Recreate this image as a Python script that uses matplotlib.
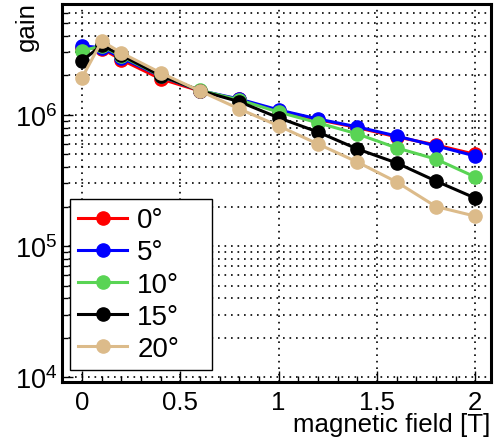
import matplotlib
matplotlib.use("Agg")
import matplotlib.pyplot as plt
from matplotlib.ticker import LogLocator, FixedLocator, MultipleLocator, NullFormatter

plt.rcParams['font.family'] = ['Liberation Sans', 'DejaVu Sans']
plt.rcParams['mathtext.fontset'] = 'custom'
plt.rcParams['mathtext.rm'] = 'Liberation Sans'
plt.rcParams['mathtext.it'] = 'Liberation Sans'

field = [0, 0.1, 0.2, 0.4, 0.6, 0.8, 1.0, 1.2, 1.4, 1.6, 1.8, 2.0]
gain_0 = [3.25e6, 3.2e6, 2.63e6, 1.88e6, 1.52e6, 1.31e6, 1.07e6, 0.92e6, 0.80e6, 0.68e6, 0.59e6, 0.50e6]
gain_5 = [3.36e6, 3.25e6, 2.72e6, 1.97e6, 1.53e6, 1.32e6, 1.09e6, 0.93e6, 0.81e6, 0.69e6, 0.58e6, 0.486e6]
gain_10 = [3.08e6, 3.35e6, 2.80e6, 1.98e6, 1.54e6, 1.30e6, 1.05e6, 0.87e6, 0.716e6, 0.56e6, 0.46e6, 0.336e6]
gain_15 = [2.58e6, 3.40e6, 2.85e6, 1.99e6, 1.53e6, 1.26e6, 0.95e6, 0.74e6, 0.55e6, 0.43e6, 0.313e6, 0.232e6]
gain_20 = [1.92e6, 3.65e6, 2.97e6, 2.09e6, 1.52e6, 1.11e6, 0.824e6, 0.60e6, 0.437e6, 0.308e6, 0.20e6, 0.169e6]
labels = ['0°', '5°', '10°', '15°', '20°']
colors = ['#ff0000', '#0000ff', '#59d454', '#000000', '#dcbb8a']
series = [gain_0, gain_5, gain_10, gain_15, gain_20]
xticks = [0, 0.5, 1, 1.5, 2]
xticklabels = ['0', '0.5', '1', '1.5', '2']

W, H = 495, 439
fig = plt.figure(figsize=(W / 100, H / 100), dpi=100)
ax = fig.add_axes([62 / W, (H - 383) / H, (491 - 62) / W, (383 - 5) / H])

for s, c, l in zip(series, colors, labels):
    ax.plot(field, s, '-o', color=c, lw=2.2, ms=9.5, label=l, zorder=3)

ax.set_yscale('log')
ax.set_xlim(-0.102, 2.08)
ax.set_ylim(9.2e3, 7e6)

fs = 18.6
ax.xaxis.set_major_locator(FixedLocator(xticks))
ax.set_xticklabels(xticklabels)
ax.xaxis.set_minor_locator(MultipleLocator(0.1))
ax.yaxis.set_minor_locator(LogLocator(base=10, subs=range(2, 10), numticks=20))
ax.yaxis.set_minor_formatter(NullFormatter())
ax.set_yticks([1e4, 1e5, 1e6])
ax.set_yticklabels([r'$\mathregular{10^{4}}$', r'$\mathregular{10^{5}}$', r'$\mathregular{10^{6}}$'])

ax.tick_params(which='both', direction='in', top=False, right=False, width=1, labelsize=fs)
ax.tick_params(which='major', length=8)
ax.tick_params(which='minor', length=4)
ax.tick_params(axis='x', pad=6)
ax.tick_params(axis='y', pad=3.5, labelsize=19.5)

grid_kw = dict(color='black', linestyle=(0, (1, 2.9)), linewidth=1.2)
ax.grid(True, which='major', axis='x', **grid_kw)
ax.grid(True, which='both', axis='y', **grid_kw)
ax.set_axisbelow(True)

for sp in ax.spines.values():
    sp.set_linewidth(2.2)

x0 = (70 - 62) / 429
x1 = (212 - 62) / 429
ytop = (383 - 200) / 378
ybot = (383 - 363) / 378
leg = ax.legend(loc='upper left', bbox_to_anchor=(x0, ybot, x1 - x0, ytop - ybot), mode='expand',
                borderaxespad=0, fancybox=False, framealpha=1, edgecolor='black',
                fontsize=20, handlelength=1.76, handletextpad=0.36, labelspacing=0.22,
                borderpad=0.3, markerscale=1.0)
leg.get_frame().set_linewidth(1.0)
leg.set_zorder(5)

fig.text(490 / W, (H - 432) / H, 'magnetic field [T]', ha='right', va='baseline', fontsize=fs)
fig.text(27 / W, 1 - 2 / H, 'gain', ha='center', va='top', rotation=90, fontsize=fs)

fig.savefig('out.png', dpi=100)
